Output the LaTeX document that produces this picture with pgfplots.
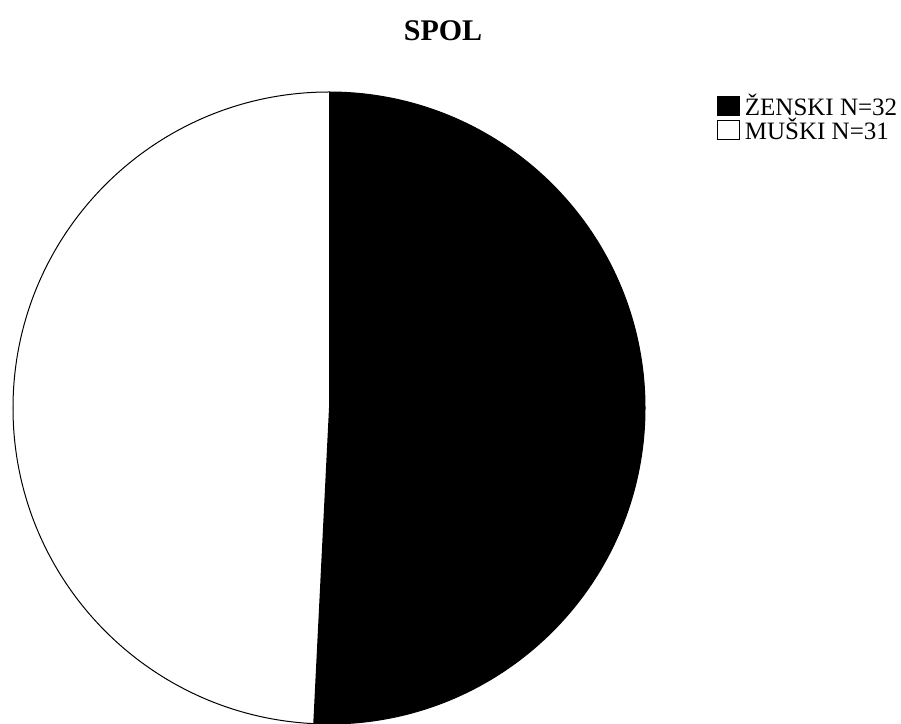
\documentclass[border=0pt]{standalone}
\usepackage{pgfplots}
\usepackage{pgfplotstable}
\pgfplotsset{compat=1.18}
\usepackage{fontspec}
\setmainfont{Liberation Serif}
\pgfplotstableread{
label value
Z 32
M 31
}\piedata
\begin{document}
\begin{tikzpicture}[x=1pt,y=1pt]
\useasboundingbox (0,0) rectangle (901,723);
\pgfplotstablegetelem{0}{value}\of\piedata \let\vA\pgfplotsretval
\pgfplotstablegetelem{1}{value}\of\piedata \let\vB\pgfplotsretval
\pgfmathsetmacro\total{\vA+\vB}
\pgfmathsetmacro\endA{90-360*\vA/\total}
\begin{axis}[
  at={(329pt,315pt)}, anchor=center,
  width=632pt, height=632pt, scale only axis,
  hide axis, xmin=-1, xmax=1, ymin=-1, ymax=1,
  clip=false,
  legend style={draw=none, fill=none, at={(1.114,1.0)}, anchor=north west,
    font=\fontsize{25}{25}\selectfont, inner sep=0pt, row sep=-3pt},
  legend cell align=left,
]
\fill[black] (axis cs:0,0) -- (axis cs:0,1) arc[start angle=90, end angle=\endA, radius=316pt] -- cycle;
\draw[black, line width=1pt] (axis cs:0,0) circle[radius=316pt];
\draw[black, line width=1pt] (axis cs:0,1) -- (axis cs:0,0);
\addlegendimage{legend image code/.code={\draw[black,fill=black,line width=0.9pt] (0pt,-10pt) rectangle (22pt,9pt); \path (25pt,0pt);}}
\addlegendentry{ŽENSKI N=32}
\addlegendimage{legend image code/.code={\draw[black,fill=white,line width=0.9pt] (0pt,-10pt) rectangle (22pt,9pt); \path (25pt,0pt);}}
\addlegendentry{MUŠKI N=31}
\end{axis}
\node[font=\fontsize{30}{32}\selectfont\bfseries] at (443,692) {SPOL};
\end{tikzpicture}
\end{document}
